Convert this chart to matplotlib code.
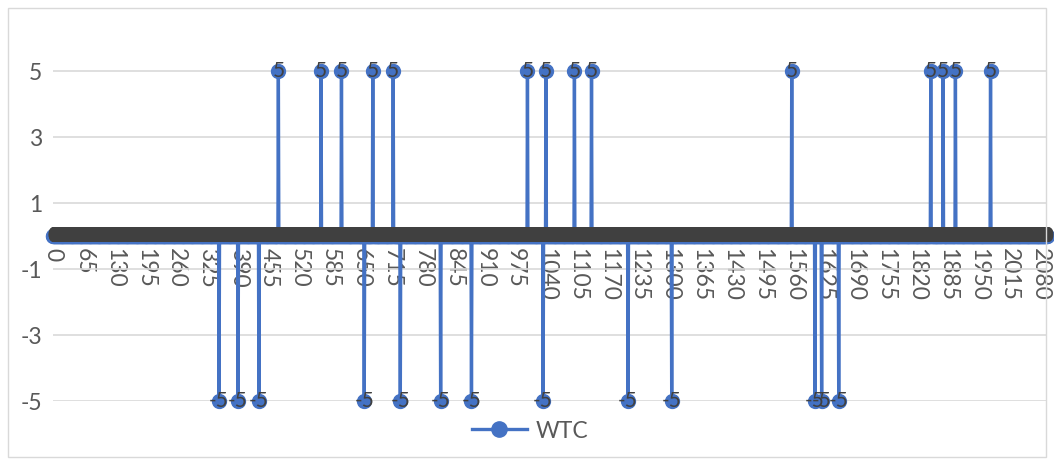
import numpy as np
import matplotlib.pyplot as plt
from matplotlib.lines import Line2D
from matplotlib.patches import Rectangle

# series: WTC, 2096 points, mostly zero with isolated +5 / -5 spikes
n_points = 2096
up_idx = [475, 565, 608, 674, 717, 1000, 1039, 1099, 1135, 1557, 1850, 1876, 1902, 1976]
down_idx = [350, 390, 434, 656, 732, 817, 882, 1033, 1212, 1304, 1606, 1620, 1656]
spike_up = 5
spike_down = -5

x_tick_step = 65
y_ticks = [-5, -3, -1, 1, 3, 5]
series_name = 'WTC'

blue = '#4472C4'
txt = '#595959'
lbl = '#404040'
font = ['Lato', 'DejaVu Sans']

wtc = np.zeros(n_points)
wtc[up_idx] = spike_up
wtc[down_idx] = spike_down
x = np.arange(n_points)

plt.rcParams['font.family'] = font

fig = plt.figure(figsize=(10.54, 4.65), dpi=100)
ax = fig.add_axes([53 / 1054, 1 - 401 / 465, (1047 - 53) / 1054, (401 - 38) / 465])

ax.plot(x, wtc, color=blue, lw=2.4, marker='o', ms=10, mfc=blue, mec=blue,
        clip_on=False, zorder=3)

# data labels on every point
for xi, v in zip(x, wtc):
    ax.text(xi, v, '%d' % v, ha='center', va='center', fontsize=15,
            color=lbl, zorder=4, clip_on=False)

# axis crosses at zero (set before the ticks, it resets them)
ax.spines['bottom'].set_position(('data', 0))
ax.spines['bottom'].set_color('#D9D9D9')
for s in ['top', 'right', 'left']:
    ax.spines[s].set_visible(False)

ax.set_xlim(0, n_points - 1)
ax.set_ylim(-5, 6)
ax.set_yticks(y_ticks)
ax.set_yticklabels([str(t) for t in y_ticks])
ax.yaxis.grid(True, color='#D9D9D9', lw=1.2)
ax.set_axisbelow(True)

ax.set_xticks(np.arange(0, n_points, x_tick_step))
ax.set_xticklabels([str(t) for t in range(0, n_points, x_tick_step)])
ax.tick_params(axis='both', length=0, labelsize=16.5, colors=txt)
ax.tick_params(axis='x', pad=9, labelrotation=270)
ax.tick_params(axis='y', pad=8)

handle = Line2D([], [], color=blue, lw=2.4, marker='o', ms=11)
fig.legend([handle], [series_name], loc='center', bbox_to_anchor=(530 / 1054, 1 - 431 / 465),
           frameon=False, fontsize=16.5, labelcolor=txt, handlelength=2.4, handletextpad=0.4)

fig.patches.append(Rectangle((8 / 1054, 8 / 465), 1038 / 1054, 449 / 465,
                             transform=fig.transFigure, fill=False, ec='#D9D9D9', lw=1))

fig.savefig('out.png', dpi=100)
